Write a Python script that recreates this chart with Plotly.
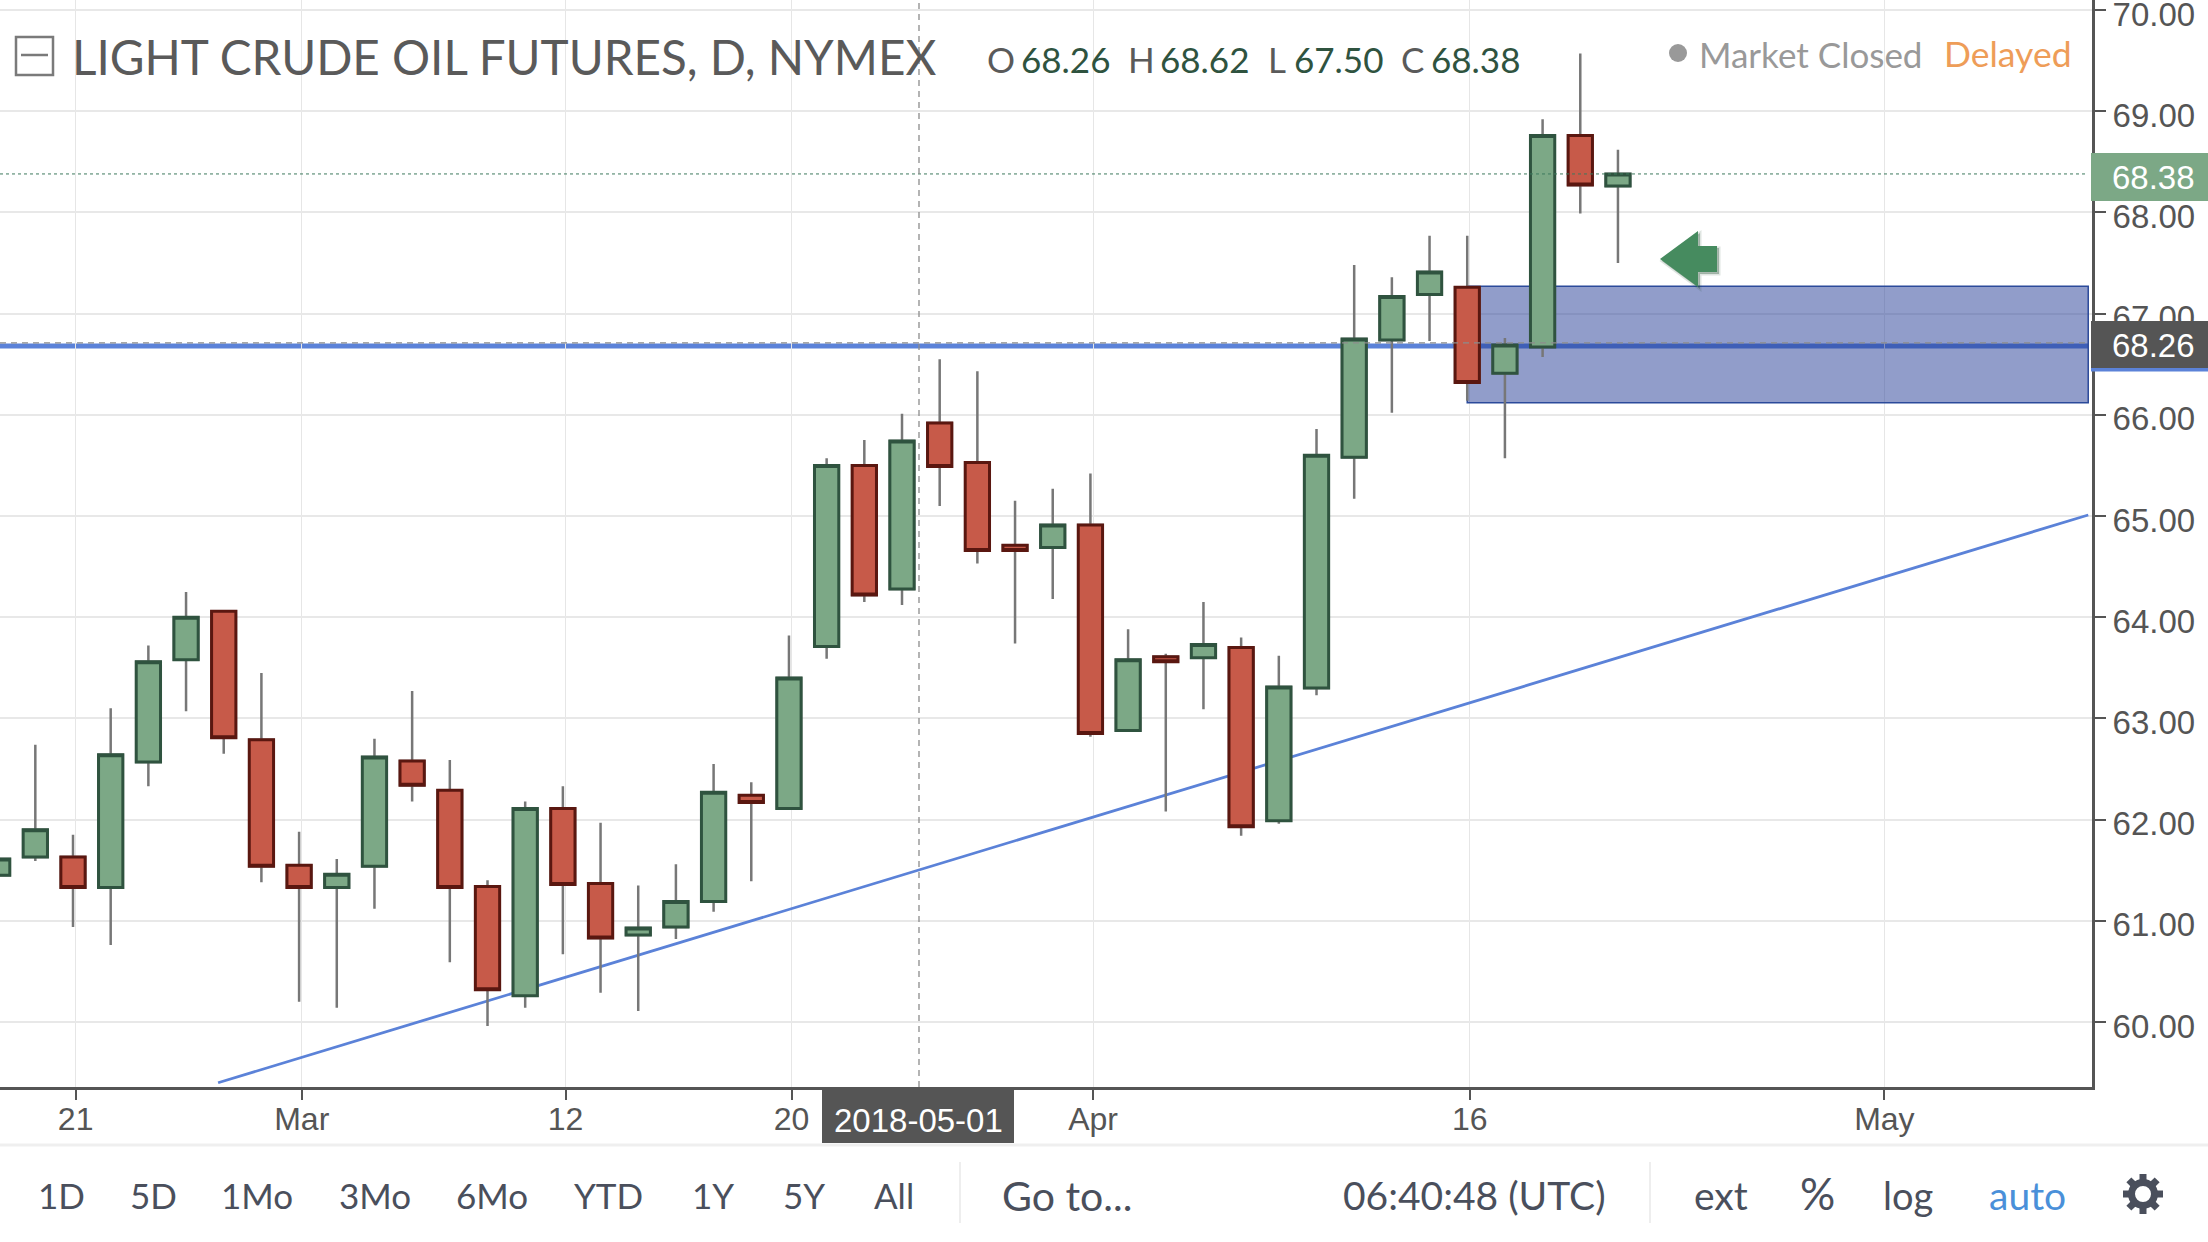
import math
import plotly.graph_objects as go

W, H = 2208, 1242
PLOT_R, PLOT_B = 2092, 1087

dates = ["2018-02-16","2018-02-20","2018-02-21","2018-02-22","2018-02-23","2018-02-26","2018-02-27","2018-02-28",
         "2018-03-01","2018-03-02","2018-03-05","2018-03-06","2018-03-07","2018-03-08","2018-03-09","2018-03-12",
         "2018-03-13","2018-03-14","2018-03-15","2018-03-16","2018-03-19","2018-03-20","2018-03-21","2018-03-22",
         "2018-03-23","2018-03-26","2018-03-27","2018-03-28","2018-03-29","2018-04-02","2018-04-03","2018-04-04",
         "2018-04-05","2018-04-06","2018-04-09","2018-04-10","2018-04-11","2018-04-12","2018-04-13","2018-04-16",
         "2018-04-17","2018-04-18","2018-04-19","2018-04-20"]
future_dates = ["2018-04-23","2018-04-24","2018-04-25","2018-04-26","2018-04-27","2018-04-30","2018-05-01",
                "2018-05-02","2018-05-03","2018-05-04","2018-05-07","2018-05-08","2018-05-09"]
opens  = [61.45,61.63,61.63,61.33,62.57,63.58,64.06,62.79,61.55,61.33,61.54,62.58,62.29,61.34,60.26,62.11,
          61.37,60.86,60.94,61.19,62.24,62.11,63.71,65.50,64.28,65.92,65.53,64.71,64.69,64.91,62.88,63.61,
          63.60,63.70,61.99,63.30,65.58,66.74,67.19,67.26,66.41,66.67,68.76,68.26]
highs  = [61.65,62.74,61.85,63.10,63.72,64.25,64.06,63.45,61.88,61.61,62.80,63.27,62.59,61.40,62.18,62.33,
          61.97,61.35,61.56,62.55,62.37,63.82,65.57,65.75,66.01,66.55,66.43,65.15,65.27,65.42,63.88,63.64,
          64.15,63.80,63.62,65.86,67.48,67.36,67.77,67.77,66.76,68.92,69.57,68.62]
lows   = [61.40,61.59,60.94,60.76,62.33,63.07,62.65,61.38,60.20,60.14,61.12,62.18,60.59,59.96,60.14,60.67,
          60.29,60.11,60.82,61.09,61.39,62.11,63.59,64.15,64.12,65.10,64.53,63.74,64.18,62.82,62.88,62.08,
          63.09,61.84,61.96,63.23,65.17,66.02,66.73,66.14,65.57,66.57,67.99,67.50]
closes = [61.61,61.90,61.33,62.64,63.56,64.00,62.81,61.54,61.33,61.46,62.62,62.34,61.33,60.32,62.11,61.36,
          60.83,60.93,61.19,62.27,62.17,63.40,65.50,64.22,65.74,65.49,64.66,64.66,64.91,62.85,63.58,63.56,
          63.73,61.93,63.31,65.60,66.75,67.17,67.41,66.32,66.69,68.76,68.27,68.38]

tick_dates = ["2018-02-21","2018-03-01","2018-03-12","2018-03-20","2018-04-02","2018-04-16","2018-05-01"]
tick_text = ["21","Mar","12","20","Apr","16","May"]
price_ticks = [60,61,62,63,64,65,66,67,68,69,70]
price_text = ["60.00","61.00","62.00","63.00","64.00","65.00","66.00","67.00","68.00","69.00","70.00"]

# trend line and zone run to fractional bar positions on the category axis
trend_bars = [5.85,55.48]
trend_values = [59.40,65.01]
zone_start = "2018-04-16"
zone_end_bar = 55.48
zone_values = [66.12,67.27]
level_value = 66.68
crosshair_value = 66.71
last_close = 68.38

toolbar_left = ["1D","5D","1Mo","3Mo","6Mo","YTD","1Y","5Y","All"]
toolbar_centres = [61,153,257,375,492,608,713,804,894]

def px(x): return x / W
def py(y): return 1 - y / H

INK = "#5a5a5a"
TOOL = "#4a4f5c"
UI = "Lato"
TICK = "Liberation Sans"
LINE_END = 2088

all_dates = dates + future_dates
tick_positions = [all_dates.index(d) + 0.07 for d in tick_dates]

fig = go.Figure()
fig.add_trace(go.Candlestick(
    x=dates, open=opens, high=highs, low=lows, close=closes,
    increasing=dict(line=dict(color="#777777", width=2.5), fillcolor="#777777"),
    decreasing=dict(line=dict(color="#777777", width=2.5), fillcolor="#777777"),
    whiskerwidth=0, hoverinfo="skip", showlegend=False))
fig.add_trace(go.Candlestick(
    x=dates, open=opens, close=closes,
    high=[max(o, c) for o, c in zip(opens, closes)],
    low=[min(o, c) for o, c in zip(opens, closes)],
    increasing=dict(line=dict(color="#2f533f", width=3), fillcolor="#7ca886"),
    decreasing=dict(line=dict(color="#5a1710", width=3), fillcolor="#c75a49"),
    whiskerwidth=0, hoverinfo="skip", showlegend=False))

shapes = [
    # drawing tools under the candles
    dict(type="line", xref="paper", x0=0, x1=px(LINE_END), yref="y", y0=level_value, y1=level_value,
         line=dict(color="#5b82d8", width=5), layer="between"),
    dict(type="rect", xref="x", yref="y", x0=zone_start, x1=zone_end_bar, y0=zone_values[0], y1=zone_values[1],
         fillcolor="rgba(35,60,150,0.5)", line=dict(color="#2b4a9a", width=1.5), layer="between"),
    dict(type="line", xref="x", yref="y", x0=trend_bars[0], x1=trend_bars[1],
         y0=trend_values[0], y1=trend_values[1], line=dict(color="#5b82d8", width=2.8), layer="between"),
    # price line and crosshair
    dict(type="line", xref="paper", x0=0, x1=px(LINE_END), yref="y", y0=last_close, y1=last_close,
         line=dict(color="#3e7a5e", width=1, dash="dot"), layer="above"),
    dict(type="line", xref="paper", x0=0, x1=px(LINE_END), yref="y", y0=crosshair_value, y1=crosshair_value,
         line=dict(color="#8c8c8c", width=1.3, dash="6px,5px"), layer="above"),
    dict(type="line", xref="paper", yref="paper", x0=px(919), x1=px(919), y0=py(PLOT_B), y1=1,
         line=dict(color="#8c8c8c", width=1.3, dash="6px,5px"), layer="above"),
    # price labels on the axis
    dict(type="rect", xref="paper", yref="paper", x0=px(2091), x1=1, y0=py(201), y1=py(153),
         fillcolor="#7ca886", line_width=0, layer="above"),
    dict(type="rect", xref="paper", yref="paper", x0=px(2091), x1=1, y0=py(368), y1=py(321),
         fillcolor="#555555", line_width=0, layer="above"),
    dict(type="rect", xref="paper", yref="paper", x0=px(2091), x1=1, y0=py(371.5), y1=py(368),
         fillcolor="#5b82d8", line_width=0, layer="above"),
    # crosshair date label
    dict(type="rect", xref="paper", yref="paper", x0=px(822), x1=px(1014), y0=py(1143), y1=py(PLOT_B + 2),
         fillcolor="#555555", line_width=0, layer="above"),
    # toolbar rules
    dict(type="line", xref="paper", yref="paper", x0=0, x1=1, y0=py(1145), y1=py(1145),
         line=dict(color="#efefef", width=3), layer="above"),
    dict(type="line", xref="paper", yref="paper", x0=px(960), x1=px(960), y0=py(1162), y1=py(1223),
         line=dict(color="#eeeeee", width=2), layer="above"),
    dict(type="line", xref="paper", yref="paper", x0=px(1650), x1=px(1650), y0=py(1162), y1=py(1223),
         line=dict(color="#eeeeee", width=2), layer="above"),
    # collapse button
    dict(type="rect", xref="paper", yref="paper", x0=px(16), x1=px(53), y0=py(75), y1=py(37),
         line=dict(color="#7a7a7a", width=2.5), fillcolor="rgba(0,0,0,0)", layer="above"),
    dict(type="line", xref="paper", yref="paper", x0=px(21), x1=px(48), y0=py(55), y1=py(55),
         line=dict(color="#7a7a7a", width=2.5), layer="above"),
    # market status dot
    dict(type="circle", xref="paper", yref="paper", x0=px(1669), x1=px(1687), y0=py(62), y1=py(44),
         fillcolor="#999999", line_width=0, layer="above"),
]
arrow_pts = [(1660,259),(1698,231),(1698,246),(1717,246),(1717,272),(1698,272),(1698,287)]
shapes.append(dict(type="path", xref="paper", yref="paper",
    path="M " + " L ".join(f"{px(x+2):.5f},{py(y+2):.5f}" for x, y in arrow_pts) + " Z",
    fillcolor="rgba(40,80,55,0.35)", line=dict(color="rgba(40,80,55,0.15)", width=3), layer="above"))
shapes.append(dict(type="path", xref="paper", yref="paper",
    path="M " + " L ".join(f"{px(x):.5f},{py(y):.5f}" for x, y in arrow_pts) + " Z",
    fillcolor="#468b5f", line_width=0, layer="above"))

# settings gear icon
GEAR_X, GEAR_Y = 2143, 1194
for k in range(8):
    a = math.radians(45 * k)
    shapes.append(dict(type="line", xref="paper", yref="paper",
        x0=px(GEAR_X + 13 * math.cos(a)), x1=px(GEAR_X + 20 * math.cos(a)),
        y0=py(GEAR_Y + 13 * math.sin(a)), y1=py(GEAR_Y + 20 * math.sin(a)),
        line=dict(color=TOOL, width=7), layer="above"))
shapes.append(dict(type="circle", xref="paper", yref="paper",
    x0=px(GEAR_X - 11.5), x1=px(GEAR_X + 11.5), y0=py(GEAR_Y + 11.5), y1=py(GEAR_Y - 11.5),
    line=dict(color=TOOL, width=7), fillcolor="#ffffff", layer="above"))

def note(text, x, y, size, color, font=UI, anchor="left"):
    return dict(text=text, xref="paper", yref="paper", x=px(x), y=py(y), xanchor=anchor, yanchor="middle",
                showarrow=False, font=dict(family=font, size=size, color=color), borderpad=0, borderwidth=0)

notes = [
    note("LIGHT CRUDE OIL FUTURES, D, NYMEX", 72, 57, 47.6, INK),
    note("O", 987, 59, 35, INK), note("68.26", 1021, 59, 35, "#2f533f"),
    note("H", 1128, 59, 35, INK), note("68.62", 1160, 59, 35, "#2f533f"),
    note("L", 1268, 59, 35, INK), note("67.50", 1294, 59, 35, "#2f533f"),
    note("C", 1401, 59, 35, INK), note("68.38", 1431, 59, 35, "#2f533f"),
    note("Market Closed", 1699, 54, 35, "#999999"),
    note("Delayed", 1944, 54, 35.5, "#ee9d58"),
    note("68.38", 2153, 178, 33, "#ffffff", TICK, "center"),
    note("68.26", 2153, 345, 33, "#ffffff", TICK, "center"),
    note("2018-05-01", 918, 1120, 33, "#ffffff", TICK, "center"),
    note("Go to...", 1002, 1195, 41, TOOL),
    note("06:40:48 (UTC)", 1343, 1195, 39, TOOL),
    note("ext", 1694, 1195, 39, TOOL),
    note("%", 1800, 1193, 44, TOOL),
    note("log", 1883, 1195, 38, TOOL),
    note("auto", 1989, 1195, 39, "#4a90d9"),
]
for label, centre in zip(toolbar_left, toolbar_centres):
    notes.append(note(label, centre, 1195, 35, TOOL, UI, "center"))

fig.update_layout(
    width=W, height=H, autosize=False, margin=dict(l=0, r=0, t=0, b=0, pad=0),
    paper_bgcolor="#ffffff", plot_bgcolor="#ffffff", showlegend=False, boxgap=0.355, boxgroupgap=0,
    shapes=shapes, annotations=notes, hovermode=False,
    xaxis=dict(type="category", categoryorder="array", categoryarray=all_dates, automargin=False,
               domain=[0, PLOT_R / W], range=[0.0626, 55.58], rangeslider=dict(visible=False),
               tickmode="array", tickvals=tick_positions, ticktext=tick_text, tickangle=0,
               showgrid=True, gridcolor="#e6e6e6", gridwidth=1, zeroline=False,
               showline=True, linecolor="#555555", linewidth=3,
               ticks="outside", ticklen=10, tickwidth=2, tickcolor="#555555",
               tickfont=dict(family=TICK, size=32, color="#555555"), ticklabelstandoff=-8),
    yaxis=dict(side="right", domain=[1 - PLOT_B / H, 1], range=[59.358, 70.0988], automargin=False,
               tickmode="array", tickvals=price_ticks, ticktext=price_text, ticklabeloverflow="allow",
               showgrid=True, gridcolor="#e8e8e8", gridwidth=1.5, zeroline=False,
               showline=True, linecolor="#555555", linewidth=3,
               ticks="outside", ticklen=11, tickwidth=2, tickcolor="#555555",
               tickfont=dict(family=TICK, size=33, color="#555555"), ticklabelstandoff=0, ticklabelshift=4),
)

fig.write_html("out.html", config={"displayModeBar": False},
               post_script="document.body.style.margin='0';")
